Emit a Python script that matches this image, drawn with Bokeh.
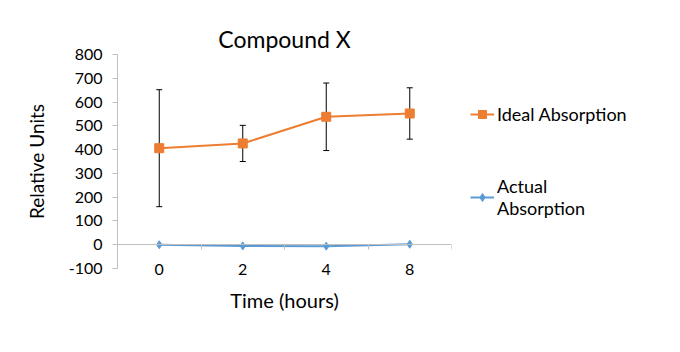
from bokeh.plotting import figure
from bokeh.models import (ColumnDataSource, Range1d, LinearAxis, FixedTicker, Whisker,
                          TeeHead, Legend, LegendItem)
from bokeh.embed import file_html
from bokeh.resources import INLINE

# ---- data ----
time_labels = ["0", "2", "4", "8"]
ideal = [406, 426, 538, 552]
ideal_err = [246, 76, 142, 108]
actual = [0, -5, -6, 2]
y_ticks = [-100, 0, 100, 200, 300, 400, 500, 600, 700, 800]
y_tick_labels = ["-100", "0", "100", "200", "300", "400", "500", "600", "700", "800"]

FONT = "Lato"
ORANGE = "#ED7D31"
BLUE = "#5B9BD5"
AXIS_GRAY = "#BFBFBF"

xs = [i + 0.5 for i in range(len(time_labels))]
src = ColumnDataSource(dict(
    x=xs, ideal=ideal, actual=actual,
    upper=[v + e for v, e in zip(ideal, ideal_err)],
    lower=[v - e for v, e in zip(ideal, ideal_err)],
))

p = figure(frame_width=334, frame_height=214, output_backend="svg", toolbar_location=None,
           x_range=Range1d(0, len(time_labels)), y_range=Range1d(-100, 800),
           x_axis_type=None, y_axis_type=None,
           min_border_left=117, min_border_top=54, min_border_bottom=84, min_border_right=229,
           title="Compound X")
p.outline_line_color = None
p.xgrid.visible = False
p.ygrid.visible = False
p.background_fill_color = "white"

p.title.align = "center"
p.title.text_font = FONT
p.title.text_font_size = "23px"
p.title.text_font_style = "normal"
p.title.text_color = "#000000"
p.title.offset = 0
p.title.standoff = 4

# y axis
yax = LinearAxis(ticker=FixedTicker(ticks=y_ticks), axis_label="Relative Units",
                 major_label_overrides={t: s for t, s in zip(y_ticks, y_tick_labels)})
yax.axis_line_color = AXIS_GRAY
yax.major_tick_line_color = AXIS_GRAY
yax.major_tick_out = 5
yax.major_tick_in = 0
yax.minor_tick_line_color = None
yax.major_label_text_font = FONT
yax.major_label_text_font_size = "16px"
yax.major_label_text_color = "#000000"
yax.major_label_standoff = 10
yax.axis_label_text_font = FONT
yax.axis_label_text_font_size = "19px"
yax.axis_label_text_font_style = "normal"
yax.axis_label_text_color = "#000000"
yax.axis_label_standoff = 18
p.add_layout(yax, "left")

# x axis line at y=0 with boundary ticks
x0ax = LinearAxis(ticker=FixedTicker(ticks=list(range(len(time_labels) + 1))), fixed_location=0)
x0ax.axis_line_color = AXIS_GRAY
x0ax.major_tick_line_color = AXIS_GRAY
x0ax.major_tick_out = 5
x0ax.major_tick_in = 0
x0ax.minor_tick_line_color = None
x0ax.major_label_text_font_size = "0px"
x0ax.major_label_text_alpha = 0
p.add_layout(x0ax, "below")

# bottom axis: category labels + title
xbax = LinearAxis(ticker=FixedTicker(ticks=xs), axis_label="Time (hours)",
                  major_label_overrides={x: t for x, t in zip(xs, time_labels)})
xbax.axis_line_color = None
xbax.major_tick_line_color = None
xbax.minor_tick_line_color = None
xbax.major_label_standoff = -11
xbax.major_label_text_font = FONT
xbax.major_label_text_font_size = "16px"
xbax.major_label_text_color = "#000000"
xbax.axis_label_text_font = FONT
xbax.axis_label_text_font_size = "20px"
xbax.axis_label_text_font_style = "normal"
xbax.axis_label_text_color = "#000000"
xbax.axis_label_standoff = 10
p.add_layout(xbax, "below")

# error bars
wh = Whisker(source=src, base="x", upper="upper", lower="lower",
             line_color="black", line_width=1,
             upper_head=TeeHead(size=6, line_color="black", line_width=1),
             lower_head=TeeHead(size=6, line_color="black", line_width=1))
p.add_layout(wh)

# series
l1 = p.line("x", "ideal", source=src, line_color=ORANGE, line_width=2)
m1 = p.scatter("x", "ideal", source=src, marker="square", size=9, fill_color=ORANGE, line_color=ORANGE)
l2 = p.line("x", "actual", source=src, line_color=BLUE, line_width=2)
m2 = p.scatter("x", "actual", source=src, marker="diamond", size=8, fill_color=BLUE, line_color=BLUE)

legend = Legend(items=[LegendItem(label="Ideal Absorption", renderers=[l1, m1]),
                       LegendItem(label="Actual\nAbsorption", renderers=[l2, m2])],
                location=(19, 49))
legend.border_line_color = None
legend.background_fill_alpha = 0
legend.label_text_font = FONT
legend.label_text_font_size = "18px"
legend.label_text_color = "#000000"
legend.glyph_width = 24
legend.label_standoff = 3
legend.spacing = 50
legend.margin = 0
legend.padding = 0
p.add_layout(legend, "right")

open("out.html", "w").write(file_html(p, INLINE))
